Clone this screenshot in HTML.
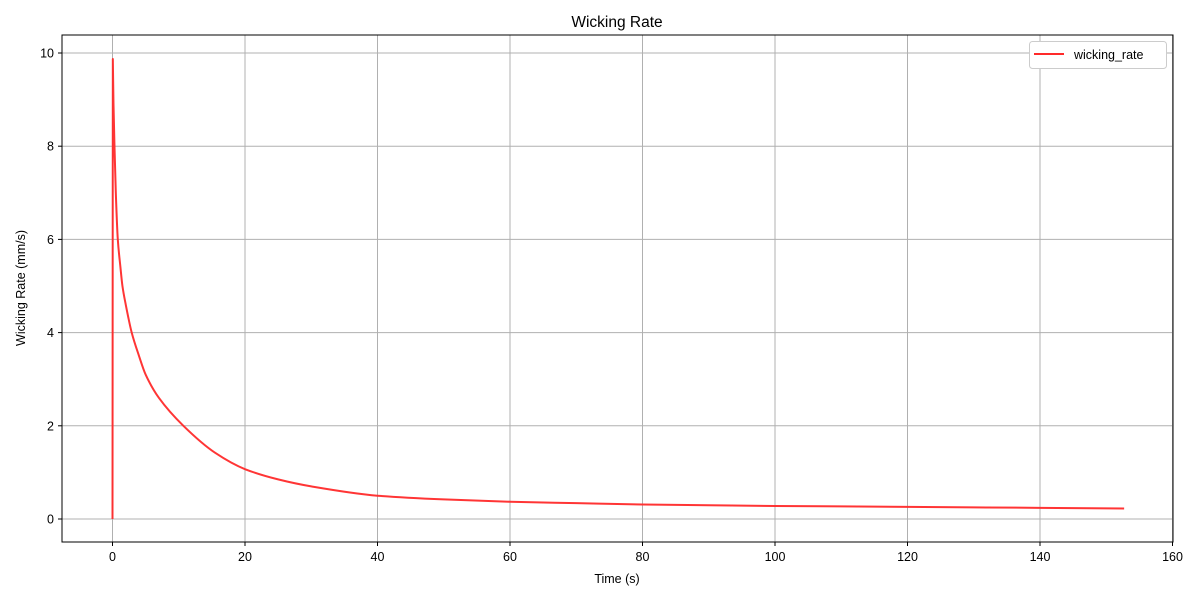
<!DOCTYPE html>
<html><head><meta charset="utf-8"><style>
body{margin:0;background:#fff;font-family:"Liberation Sans",sans-serif;}
svg text{font-family:"Liberation Sans",sans-serif;fill:#000}
</style></head><body>
<svg id="chart" width="1200" height="600">
<text x="617" y="27" font-size="15.5" text-anchor="middle">Wicking Rate</text>
<g id="grid"></g>
<g id="ticks"></g>
<path id="line" fill="none" stroke="#ff2a2a" stroke-width="2" stroke-opacity="0.95" stroke-linejoin="round"></path>
<rect x="62" y="35" width="1111" height="507" fill="none" stroke="#000" stroke-width="1"/>
<text x="617" y="583" font-size="12.5" text-anchor="middle">Time (s)</text>
<text transform="translate(25,288) rotate(-90)" font-size="12.5" text-anchor="middle">Wicking Rate (mm/s)</text>
<g>
<rect x="1029.5" y="41.5" width="137" height="27" rx="3" fill="#fff" stroke="#ccc"/>
<line x1="1034" y1="54" x2="1064" y2="54" stroke="#ff2a2a" stroke-width="2"/>
<text x="1074" y="59" font-size="12.5">wicking_rate</text>
</g>
</svg>
<script>
const times=[0,0.05,0.15,0.3,0.5,0.8,1.2,1.5,2,2.9,4,5,7,10.7,15.5,20,25,30,40,50,60,70,80,90,100,110,120,130,140,152.7];
const rates=[0,9.87,8.9,8.0,7.0,6.0,5.4,5.0,4.6,4.0,3.5,3.1,2.6,2.0,1.42,1.07,0.85,0.7,0.5,0.42,0.37,0.34,0.31,0.295,0.28,0.27,0.26,0.25,0.24,0.225];
const xTicks=[0,20,40,60,80,100,120,140,160];
const yTicks=[0,2,4,6,8,10];
const X=v=>112.5+v*6.625, Y=v=>519-v*46.6;
const ns="http://www.w3.org/2000/svg";
const grid=document.getElementById('grid'),tk=document.getElementById('ticks');
function mk(tag,a,p){const e=document.createElementNS(ns,tag);for(const k in a)e.setAttribute(k,a[k]);p.appendChild(e);return e;}
xTicks.forEach(v=>{
 const g=mk('line',{x1:X(v),x2:X(v),y1:35,y2:542,stroke:'#b0b0b0','stroke-width':1},grid);
 
 
 mk('line',{x1:X(v),x2:X(v),y1:542,y2:546,stroke:'#000'},tk);
 const t=mk('text',{x:X(v),y:561,'font-size':12.5,'text-anchor':'middle'},tk);t.textContent=v;
 
 
});
yTicks.forEach(v=>{
 const g=mk('line',{x1:62,x2:1173,y1:Y(v),y2:Y(v),stroke:'#b0b0b0','stroke-width':1},grid);
 
 
 mk('line',{x1:58,x2:62,y1:Y(v),y2:Y(v),stroke:'#000'},tk);
 const t=mk('text',{x:54,y:Y(v)+4.5,'font-size':12.5,'text-anchor':'end'},tk);t.textContent=v;
 
 
});
// monotone cubic path through the data points (decaying part), straight rise at start
const px=times.map(X), py=rates.map(Y);
let d='M'+px[0]+','+py[0]+'L'+px[1]+','+py[1];
const n=px.length, s=[], m=[];
for(let i=1;i<n-1;i++) s[i]=(py[i+1]-py[i])/(px[i+1]-px[i]);
for(let i=1;i<n;i++){
 if(i===1) m[i]=s[1];
 else if(i===n-1) m[i]=s[n-2];
 else m[i]=(s[i-1]*s[i]<=0)?0:2/(1/s[i-1]+1/s[i]);
}
for(let i=1;i<n-1;i++){
 const h=px[i+1]-px[i];
 d+='C'+(px[i]+h/3)+','+(py[i]+m[i]*h/3)+' '+(px[i+1]-h/3)+','+(py[i+1]-m[i+1]*h/3)+' '+px[i+1]+','+py[i+1];
}
document.getElementById('line').setAttribute('d',d);
</script>
</body></html>
